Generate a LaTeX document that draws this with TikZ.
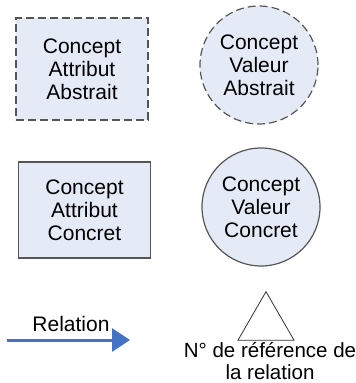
\documentclass[tikz,border=0pt]{standalone}
\usepackage{fontspec}
\setmainfont{Liberation Sans}
\usetikzlibrary{arrows.meta,shapes.geometric}
\definecolor{conceptfill}{RGB}{228,235,246}
\definecolor{conceptline}{RGB}{85,85,85}
\definecolor{relationblue}{RGB}{68,114,196}

\tikzset{
  legendtext/.style={font=\fontsize{21}{23}\selectfont, align=center},
  attrbox/.style={legendtext, rectangle, draw=conceptline, fill=conceptfill,
    line width=1.2pt, minimum width=132pt, minimum height=100pt},
  valbox/.style={legendtext, circle, draw=conceptline, fill=conceptfill,
    line width=1.2pt, minimum size=118pt, inner sep=0pt},
  abstrait/.style={dash pattern=on 8pt off 4pt}
}

\begin{document}
\begin{tikzpicture}[x=1pt,y=-1pt]
  \useasboundingbox (0,0) rectangle (356,383);

  % concepts abstraits
  \node[attrbox,abstrait,minimum height=102pt] (attrabs) at (82,69) {Concept\\Attribut\\Abstrait};
  \node[valbox,abstrait] (valabs) at (259,65) {Concept\\Valeur\\Abstrait};

  % concepts concrets
  \node[attrbox,minimum height=96pt] (attrconc) at (84.5,210) {Concept\\Attribut\\Concret};
  \node[valbox] (valconc) at (261,207) {Concept\\Valeur\\Concret};

  % relation
  \coordinate (relstart) at (7,340);
  \coordinate (relend) at (130,340);
  \draw[relationblue,line width=3pt,-{Triangle[length=18pt,width=23pt]}] (relstart) -- (relend);
  \node[legendtext,anchor=base] (rellabel) at (71,331) {Relation};

  % numero de reference
  \node[regular polygon,regular polygon sides=3,draw=black!80,line width=0.8pt,
    inner sep=0pt,minimum size=64.7pt] (reltri) at (266,324) {};
  \node[legendtext,anchor=north,inner sep=0pt,font=\fontsize{20.5}{22}\selectfont] (refnum) at (270,342.5) {N° de référence de\\la relation};
\end{tikzpicture}
\end{document}
